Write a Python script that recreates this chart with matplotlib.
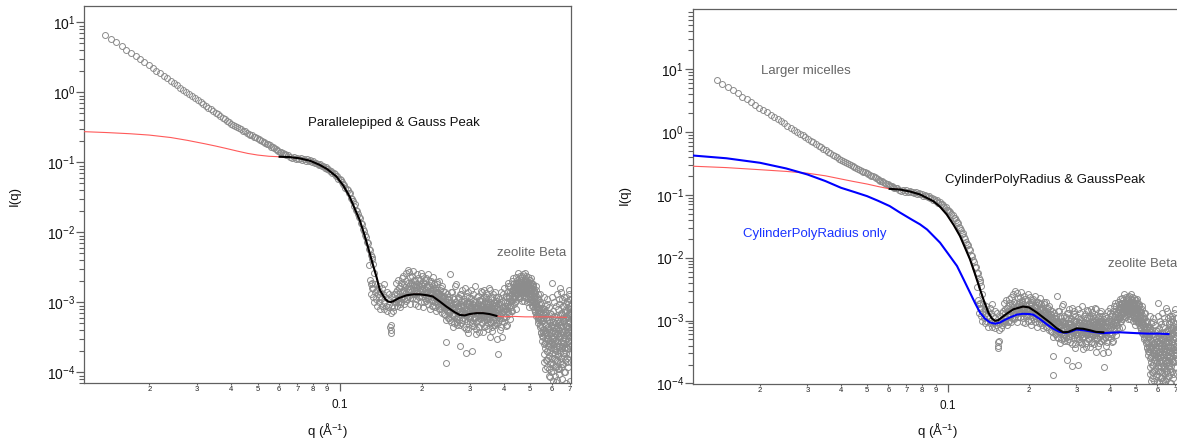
import numpy as np
import matplotlib
matplotlib.use('Agg')
import matplotlib.pyplot as plt
from matplotlib.ticker import LogLocator, FuncFormatter, NullFormatter, FixedLocator

plt.rcParams['font.family'] = ['Liberation Sans', 'DejaVu Sans']
plt.rcParams['mathtext.fontset'] = 'custom'
plt.rcParams['mathtext.rm'] = 'Liberation Sans'
plt.rcParams['mathtext.it'] = 'Liberation Sans:italic'
plt.rcParams['mathtext.bf'] = 'Liberation Sans:bold'
plt.rcParams['mathtext.default'] = 'regular'

# ---------------- data (q in 1/A, I in arbitrary units) ----------------
# low-q power-law trail (q, I)
trail = [(0.0138, 6.65), (0.01447, 5.84), (0.01515, 5.15), (0.01583, 4.56), (0.0165, 4.07),
         (0.01718, 3.64), (0.01786, 3.27), (0.01854, 2.95), (0.0192, 2.68), (0.0199, 2.43),
         (0.02057, 2.22), (0.02125, 2.03), (0.0219, 1.87), (0.0226, 1.71), (0.02328, 1.58),
         (0.02396, 1.46), (0.0246, 1.36), (0.0253, 1.26), (0.026, 1.17), (0.0267, 1.08),
         (0.0274, 1.01), (0.0281, 0.94), (0.0288, 0.88), (0.0295, 0.824), (0.0302, 0.773),
         (0.0309, 0.725), (0.0316, 0.682), (0.0323, 0.642), (0.033, 0.605), (0.0337, 0.571),
         (0.0344, 0.540), (0.0351, 0.511), (0.0358, 0.484), (0.0365, 0.458), (0.0372, 0.435),
         (0.0379, 0.414), (0.0386, 0.393), (0.0393, 0.374), (0.04, 0.356), (0.0407, 0.342),
         (0.0414, 0.330), (0.0421, 0.318), (0.0428, 0.305), (0.0435, 0.296), (0.0442, 0.284),
         (0.0449, 0.276), (0.0456, 0.266), (0.0463, 0.258), (0.047, 0.249), (0.0477, 0.242),
         (0.0484, 0.233), (0.0491, 0.228), (0.0498, 0.220), (0.0505, 0.214), (0.0512, 0.207),
         (0.0519, 0.201), (0.0526, 0.196), (0.0533, 0.190), (0.054, 0.184), (0.0547, 0.180),
         (0.0554, 0.174), (0.0561, 0.168), (0.0568, 0.164), (0.0575, 0.158), (0.0582, 0.154),
         (0.0589, 0.150), (0.0596, 0.146), (0.0603, 0.142), (0.061, 0.139), (0.0617, 0.136),
         (0.0624, 0.133), (0.0631, 0.130), (0.0638, 0.128), (0.0645, 0.126)]

# knee / steep decay (q, I)
knee = [(0.066, 0.121), (0.067, 0.115), (0.068, 0.118), (0.069, 0.112), (0.070, 0.117),
        (0.071, 0.110), (0.072, 0.116), (0.073, 0.109), (0.074, 0.112), (0.075, 0.106),
        (0.076, 0.110), (0.077, 0.104), (0.078, 0.107), (0.079, 0.101), (0.080, 0.103),
        (0.081, 0.097), (0.082, 0.099), (0.083, 0.096), (0.084, 0.091), (0.085, 0.094),
        (0.086, 0.088), (0.087, 0.089), (0.088, 0.083), (0.089, 0.085), (0.090, 0.079),
        (0.091, 0.081), (0.092, 0.074), (0.093, 0.076), (0.094, 0.071), (0.095, 0.070),
        (0.096, 0.068), (0.097, 0.064), (0.098, 0.063), (0.099, 0.057), (0.100, 0.058),
        (0.101, 0.055), (0.102, 0.053), (0.103, 0.049), (0.104, 0.048), (0.105, 0.043),
        (0.106, 0.042), (0.107, 0.040), (0.108, 0.037), (0.109, 0.036), (0.110, 0.031),
        (0.111, 0.030), (0.112, 0.028), (0.113, 0.024), (0.114, 0.025), (0.115, 0.021),
        (0.116, 0.020), (0.117, 0.018), (0.118, 0.0165), (0.119, 0.0160), (0.120, 0.0135),
        (0.121, 0.0130), (0.122, 0.0112), (0.123, 0.0105), (0.124, 0.0092), (0.125, 0.0086),
        (0.126, 0.0072), (0.127, 0.0070), (0.128, 0.0058), (0.129, 0.0056), (0.130, 0.0048),
        (0.131, 0.0044), (0.132, 0.0041), (0.133, 0.0035), (0.134, 0.0026)]

# noisy high-q cloud: q in units of 1e-3 1/A, I in units of 1e-4
cloud_B = [(128, 34), (129, 21), (130, 18), (130, 13), (131, 16), (132, 19), (133, 12), (133, 16),
           (134, 10), (135, 14), (135, 18), (136, 11), (137, 15), (137, 9), (138, 13), (139, 17),
           (139, 10), (140, 12), (141, 8), (141, 14), (142, 11), (143, 16), (143, 9), (144, 13),
           (145, 10), (146, 18), (146, 8), (147, 12), (148, 9), (149, 14), (149, 7.5), (150, 11),
           (151, 8.5), (152, 13), (152, 9.5), (153, 4.5), (154, 4.0), (154, 3.6), (155, 4.8),
           (155, 7), (156, 9), (156, 12), (157, 7.5), (158, 10), (159, 13), (159, 8.5), (160, 11)]

cloud_C = [(161, 19), (162, 9), (163, 13), (164, 11), (165, 16), (166, 8.5), (167, 14), (168, 10),
           (169, 22), (170, 12), (171, 15), (172, 9.5), (173, 18), (174, 13), (175, 26), (176, 11),
           (177, 16), (178, 29), (179, 12.5), (180, 17), (181, 9.5), (182, 23), (183, 14), (184, 18.5),
           (185, 11.5), (186, 28), (187, 15), (188, 13), (189, 20), (190, 11), (191, 16.5), (192, 25),
           (193, 13.5), (194, 9), (195, 17.5), (196, 12), (197, 21), (198, 14.5), (199, 10), (200, 16),
           (201, 24), (202, 13), (203, 8.5), (204, 18), (205, 11.5), (206, 15), (207, 22), (208, 10.5),
           (209, 14), (210, 17), (211, 9.5), (212, 20), (213, 12.5), (214, 15.5), (215, 8), (216, 13.5),
           (217, 19), (218, 11), (219, 14.5), (220, 23), (221, 9), (222, 12.5), (223, 16), (224, 10),
           (225, 13.5), (226, 7.5), (227, 18), (228, 11.5), (229, 9.5), (230, 14), (231, 20), (232, 10.5),
           (233, 8), (234, 13), (235, 16), (236, 9), (237, 11.5), (238, 7), (239, 14.5), (240, 10),
           (241, 8.5), (242, 12.5), (243, 6.5), (244, 11), (245, 2.7), (245, 1.37), (246, 9), (247, 13),
           (248, 7.5), (249, 10), (250, 6),
           (160.5, 14), (163.5, 10), (166.5, 17), (169.5, 12.5), (172.5, 14.5), (175.5, 10.5),
           (178.5, 19), (181.5, 15.5), (184.5, 13), (187.5, 17.5), (190.5, 14.5), (193.5, 16),
           (196.5, 12.5), (199.5, 18.5), (202.5, 15), (205.5, 13), (208.5, 16.5), (211.5, 12),
           (214.5, 14), (217.5, 10.5), (220.5, 15), (223.5, 12), (226.5, 14), (229.5, 11),
           (232.5, 12.5), (235.5, 10), (238.5, 11.5), (241.5, 9.5), (244.5, 10.5), (247.5, 8.5),
           (160.8, 10), (162.3, 15), (163.8, 21), (165.3, 12), (166.8, 9.5), (168.3, 19), (169.8, 14),
           (171.3, 24), (172.8, 11), (174.3, 16.5), (175.8, 20), (177.3, 12), (178.8, 15), (180.3, 27),
           (181.8, 11.5), (183.3, 19.5), (184.8, 24), (186.3, 13.5), (187.8, 21), (189.3, 9.5),
           (190.8, 18), (192.3, 14), (193.8, 22), (195.3, 12), (196.8, 15.5), (198.3, 26), (199.8, 12.5),
           (201.3, 17), (202.8, 19.5), (204.3, 10), (205.8, 21), (207.3, 13.5), (208.8, 16.5),
           (210.3, 25), (211.8, 11), (213.3, 17.5), (214.8, 13), (216.3, 20), (217.8, 9), (219.3, 15.5),
           (220.8, 12), (222.3, 18), (223.8, 8.5), (225.3, 15), (226.8, 10.5), (228.3, 19.5), (229.8, 13),
           (231.3, 8), (232.8, 15), (234.3, 10), (235.8, 12.5), (237.3, 17), (238.8, 9), (240.3, 12.5),
           (241.8, 6.8), (243.3, 14), (244.8, 9.5), (246.3, 5.5), (247.8, 11), (249.3, 8)]

cloud_D = [(251, 9), (252, 6), (253, 12), (254, 25), (255, 7.5), (256, 10), (257, 5.2), (258, 8),
           (259, 14), (260, 6.5), (261, 9.5), (262, 5), (263, 11), (264, 7), (265, 17), (266, 8.5),
           (267, 6), (268, 10), (269, 4.8), (270, 7.5), (271, 12), (272, 6.2), (273, 9), (274, 5.5),
           (275, 8), (276, 2.4), (277, 13), (278, 6.8), (279, 10.5), (280, 5), (281, 7.8), (282, 15),
           (283, 6), (284, 9.2), (285, 4.5), (286, 8), (287, 11), (288, 5.8), (289, 7), (290, 1.9),
           (291, 9.8), (292, 6.3), (293, 12.5), (294, 5.4), (295, 14), (296, 7.2), (297, 4.2), (298, 8.8),
           (299, 6), (300, 10), (301, 5.2), (302, 7.6), (303, 11.5), (304, 6.5), (305, 2.0), (306, 8.4),
           (307, 5), (308, 9.5), (309, 6.8), (310, 13), (311, 4.6), (312, 7.8), (313, 10.2), (314, 6),
           (315, 8.5), (316, 5.3), (317, 3.5), (318, 9), (319, 7), (320, 12), (321, 5.6), (322, 8.2),
           (323, 6.4), (324, 10.8), (325, 4.4), (326, 7.4), (327, 9.2), (328, 5.8), (329, 14.5), (330, 6.6),
           (331, 8.8), (332, 5), (333, 7.8), (334, 11), (335, 6.2), (336, 3.8), (337, 9.5), (338, 7),
           (339, 15), (340, 5.5), (341, 8.2), (342, 6.4), (343, 10.5), (344, 4.6), (345, 7.6), (346, 12),
           (347, 6), (348, 8.6), (349, 5.2), (350, 9.8), (351, 7.2), (352, 16), (353, 5.8), (354, 8),
           (355, 3.2), (356, 10.2), (357, 6.6), (358, 7.8), (359, 5), (360, 11.5), (361, 6.8), (362, 8.4),
           (363, 4.4), (364, 9.4), (365, 7), (366, 13), (367, 5.6), (368, 8.2), (369, 6.2), (370, 10),
           (371, 4.8), (372, 7.4), (373, 9), (374, 5.8), (375, 12), (376, 7), (377, 3.0), (378, 8.6),
           (379, 6.4), (380, 1.8),
           (252.5, 7), (255.5, 9), (258.5, 6.5), (261.5, 8.5), (264.5, 10), (267.5, 7.5), (270.5, 5.8),
           (273.5, 8.2), (276.5, 6.8), (279.5, 9), (282.5, 7.2), (285.5, 10.5), (288.5, 6.6), (291.5, 8),
           (294.5, 7.4), (297.5, 9.6), (300.5, 6.2), (303.5, 8.4), (306.5, 7), (309.5, 9.2), (312.5, 6),
           (315.5, 8), (318.5, 7.2), (321.5, 9.6), (324.5, 6.6), (327.5, 8.4), (330.5, 7), (333.5, 9),
           (336.5, 6.4), (339.5, 8.2), (342.5, 7.4), (345.5, 9.4), (348.5, 6.8), (351.5, 8.6),
           (354.5, 7.2), (357.5, 9.6), (360.5, 7.6), (363.5, 8.2), (366.5, 6.8), (369.5, 8.8),
           (372.5, 7.6), (375.5, 9.2), (378.5, 8),
           (251.8, 11), (253.8, 5.5), (255.8, 14), (257.8, 8.2), (259.8, 4.4), (261.8, 12), (263.8, 6.4),
           (265.8, 9.6), (267.8, 18), (269.8, 5.2), (271.8, 8.8), (273.8, 11.5), (275.8, 4.8),
           (277.8, 7.6), (279.8, 13), (281.8, 5.6), (283.8, 10), (285.8, 6.8), (287.8, 16), (289.8, 4.2),
           (291.8, 7.4), (293.8, 9.8), (295.8, 3.6), (297.8, 12), (299.8, 5.8), (301.8, 8.6),
           (303.8, 15), (305.8, 4.6), (307.8, 7.2), (309.8, 10.5), (311.8, 6), (313.8, 17), (315.8, 4.2),
           (317.8, 8.4), (319.8, 5.4), (321.8, 12.5), (323.8, 7.8), (325.8, 3.8), (327.8, 10.8),
           (329.8, 6.2), (331.8, 14), (333.8, 5), (335.8, 8.6), (337.8, 11.8), (339.8, 4.4), (341.8, 7.4),
           (343.8, 13.5), (345.8, 5.8), (347.8, 9.4), (349.8, 4.2), (351.8, 11), (353.8, 6.8),
           (355.8, 15), (357.8, 5.2), (359.8, 8.8), (361.8, 3.9), (363.8, 12), (365.8, 6.4), (367.8, 9.8),
           (369.8, 4.8), (371.8, 14), (373.8, 7), (375.8, 5), (377.8, 10.5), (379.8, 6.6)]

cloud_E = [(381, 7), (383, 9.5), (384, 5.5), (386, 11), (387, 6.5), (389, 8), (390, 4.5), (392, 10),
           (393, 7.2), (395, 3.2), (396, 8.5), (398, 6), (399, 13), (401, 7.5), (402, 5.2), (404, 10),
           (405, 8), (407, 6.2), (408, 12), (410, 8.8), (411, 4.8), (413, 7.5), (414, 17), (416, 9.5),
           (417, 6.8), (419, 11.5), (420, 8.5), (422, 14), (423, 5.8), (425, 10.5), (426, 8.6), (428, 15),
           (429, 12), (431, 7.5), (432, 18), (434, 11), (435, 14.5), (437, 9.5), (438, 19), (440, 12.5),
           (441, 16), (443, 10.5), (444, 8), (446, 17), (447, 13.5), (449, 21), (450, 12), (452, 15),
           (453, 19), (455, 11.5), (456, 14.5), (458, 24), (459, 16), (461, 12.5), (462, 18), (464, 14),
           (465, 21), (467, 15), (468, 10.5), (470, 17), (471, 25), (473, 14), (474, 19), (476, 12),
           (477, 16), (479, 22), (480, 13.5), (482, 18), (483, 24), (485, 15), (486, 10), (488, 20),
           (489, 13.5), (491, 17), (492, 11.5), (494, 21), (495, 15), (497, 8.5), (498, 18), (500, 12.5),
           (501, 16), (503, 22), (504, 11), (506, 14.5), (507, 18), (509, 10), (510, 13), (512, 17),
           (513, 9), (515, 12), (516, 15), (518, 8), (519, 11), (521, 13.5), (522, 7.2), (524, 10),
           (525, 17), (527, 8.5), (528, 6.3), (530, 12), (531, 9), (533, 6), (534, 7.8), (536, 11),
           (537, 5), (539, 8.2), (540, 6.4), (542, 13), (543, 4.4), (545, 7.4), (546, 5.5), (548, 9.6),
           (549, 3.8), (551, 6.5), (552, 4.6), (554, 8.3), (555, 3.3), (557, 6), (558, 4.2),
           (430, 13), (433, 15), (436, 11.5), (439, 16.5), (442, 14), (445, 18), (448, 15.5), (451, 13),
           (454, 16.5), (457, 19), (460, 14.5), (463, 15.5), (466, 17), (469, 14), (472, 19),
           (475, 15.5), (478, 17), (481, 14.5), (484, 16.5), (487, 14), (490, 18), (493, 15.5),
           (496, 13), (499, 14.5), (502, 12), (505, 15.5), (508, 11), (511, 13.5), (514, 10.5),
           (517, 12), (520, 9.5),
           (380.5, 5), (382.5, 12), (384.5, 7.8), (386.5, 4), (388.5, 9.5), (390.5, 6.8), (392.5, 14),
           (394.5, 5.4), (396.5, 10.5), (398.5, 7.4), (400.5, 16), (402.5, 6.2), (404.5, 9),
           (406.5, 12.5), (408.5, 4.6), (410.5, 14), (412.5, 10), (414.5, 7.2), (416.5, 19),
           (418.5, 12.5), (420.5, 9.2), (422.5, 17), (424.5, 13), (426.5, 7.6), (428.5, 20),
           (430.5, 10.5), (432.5, 14.5), (434.5, 22), (436.5, 12), (438.5, 16.5), (440.5, 10),
           (442.5, 19), (444.5, 23), (446.5, 13), (448.5, 17), (450.5, 26), (452.5, 12), (454.5, 20),
           (456.5, 15), (458.5, 18.5), (460.5, 11.5), (462.5, 22), (464.5, 16.5), (466.5, 13),
           (468.5, 24), (470.5, 15), (472.5, 18), (474.5, 10.5), (476.5, 20), (478.5, 14), (480.5, 26),
           (482.5, 12.5), (484.5, 21), (486.5, 16), (488.5, 18.5), (490.5, 11), (492.5, 23),
           (494.5, 13.5), (496.5, 17.5), (498.5, 21), (500.5, 10), (502.5, 15), (504.5, 19),
           (506.5, 12.5), (508.5, 16), (510.5, 9), (512.5, 14), (514.5, 18), (516.5, 10), (518.5, 13.5),
           (520.5, 7.5), (522.5, 12), (524.5, 9.5), (526.5, 15), (528.5, 6.5), (530.5, 10.5), (532.5, 8),
           (534.5, 13), (536.5, 5.5), (538.5, 9.5), (540.5, 7), (542.5, 4.8), (544.5, 10), (546.5, 6.2),
           (548.5, 3.6), (550.5, 8), (552.5, 5.4), (554.5, 2.8), (556.5, 7), (558.5, 3.8)]

cloud_F = [(560, 3.2), (561, 8), (562, 2.5), (563, 5), (564, 12), (565, 1.8), (566, 4), (567, 6.5),
           (568, 2.2), (569, 3.6), (570, 9), (571, 1.5), (572, 4.8), (573, 2.8), (574, 7), (575, 1.2),
           (576, 3.4), (577, 5.5), (578, 2), (579, 11), (580, 3), (581, 1.6), (582, 4.4), (583, 2.4),
           (584, 6.2), (585, 1.1), (586, 3.8), (587, 2.6), (588, 8.5), (589, 1.7), (590, 4.2), (591, 2.9),
           (592, 0.85), (593, 5.2), (594, 2.1), (595, 3.3), (596, 1.4), (597, 6.8), (598, 2.7), (599, 1.0),
           (600, 4.6), (601, 19), (602, 3.1), (603, 1.9), (604, 5.8), (605, 0.75), (606, 2.5), (607, 3.9),
           (608, 1.3), (609, 7.5), (610, 2.2), (611, 4.4), (612, 1.6), (613, 3.2), (614, 10), (615, 0.9),
           (616, 2.8), (617, 5), (618, 1.8), (619, 3.6), (620, 1.2), (621, 6.2), (622, 2.4), (623, 4.2),
           (624, 0.72), (625, 2.9), (626, 13), (627, 1.5), (628, 3.5), (629, 5.6), (630, 2), (631, 8),
           (632, 1.1), (633, 4), (634, 2.6), (635, 6.6), (636, 1.7), (637, 3.3), (638, 0.95), (639, 4.8),
           (640, 2.3), (641, 9.5), (642, 1.4), (643, 3.7), (644, 5.4), (645, 2.1), (646, 16), (647, 1.2),
           (648, 4.4), (649, 2.7), (650, 7), (651, 1.6), (652, 3.4), (653, 0.8), (654, 5.2), (655, 2.4),
           (656, 11), (657, 3.8), (658, 1.9), (659, 6), (660, 2.8), (661, 1.3), (662, 4.6), (663, 8.8),
           (664, 2.2), (665, 3.2), (666, 1.0), (667, 5.4), (668, 12), (669, 2.6), (670, 4), (671, 1.5),
           (672, 7.2), (673, 3), (674, 5.8), (675, 1.9), (676, 9.5), (677, 3.6), (678, 0.7), (679, 6.4),
           (680, 2.5), (681, 4.6), (682, 10.5), (683, 1.6), (684, 3.4), (685, 7.6), (686, 2.2), (687, 5),
           (688, 1.2), (689, 8.2), (690, 3.8), (691, 6), (692, 2.8), (693, 13), (694, 4.4), (695, 1.8),
           (696, 7), (697, 3.2), (698, 5.4), (699, 9), (700, 2.4), (701, 6.6), (702, 0.75), (703, 4),
           (704, 11), (705, 3), (706, 7.4), (707, 1.4),
           (559.5, 5.5), (561.5, 1.4), (563.5, 3.5), (565.5, 7.5), (567.5, 2.6), (569.5, 1.1), (571.5, 6),
           (573.5, 3.8), (575.5, 2), (577.5, 9.5), (579.5, 1.5), (581.5, 4.2), (583.5, 3), (585.5, 0.9),
           (587.5, 5.6), (589.5, 2.4), (591.5, 7), (593.5, 1.3), (595.5, 3.6), (597.5, 2.2), (599.5, 4.8),
           (601.5, 1.6), (603.5, 12), (605.5, 3), (607.5, 1.05), (609.5, 5.2), (611.5, 2.6), (613.5, 6.4),
           (615.5, 1.5), (617.5, 3.9), (619.5, 2.1), (621.5, 8.8), (623.5, 1.2), (625.5, 4.4),
           (627.5, 2.8), (629.5, 0.78), (631.5, 5), (633.5, 1.8), (635.5, 3.6), (637.5, 11), (639.5, 2.4),
           (641.5, 1.1), (643.5, 6.6), (645.5, 3.2), (647.5, 1.6), (649.5, 4.8), (651.5, 14), (653.5, 2.2),
           (655.5, 6.8), (657.5, 1.3), (659.5, 3.8), (661.5, 9), (663.5, 2.6), (665.5, 5.4), (667.5, 1.7),
           (669.5, 7.8), (671.5, 3.4), (673.5, 1.0), (675.5, 4.6), (677.5, 12), (679.5, 2.3), (681.5, 6.2),
           (683.5, 3.6), (685.5, 1.4), (687.5, 9.6), (689.5, 4.4), (691.5, 2.2), (693.5, 6.8), (695.5, 3.4),
           (697.5, 15), (699.5, 1.8), (701.5, 5.2), (703.5, 8), (705.5, 2.8), (707.5, 4.8)]

# ---- model curves, left panel (Parallelepiped & Gauss Peak) ----
fitL_q = [0.0602, 0.0652, 0.0713, 0.078, 0.0844, 0.09, 0.0972, 0.103, 0.1088, 0.1135, 0.1185,
          0.123, 0.127, 0.1318, 0.1365, 0.1405, 0.1443, 0.1475, 0.1505, 0.154, 0.157, 0.165,
          0.176, 0.186, 0.197, 0.21, 0.22, 0.233, 0.2465, 0.262, 0.276, 0.288, 0.3, 0.318, 0.336,
          0.355, 0.3765]
fitL_I = [0.12, 0.119, 0.114, 0.105, 0.092, 0.08, 0.063, 0.047, 0.0324, 0.022, 0.0149,
          0.0095, 0.0062, 0.0037, 0.00232, 0.0015, 0.00126, 0.00110, 0.00103, 0.00101, 0.00103,
          0.00115, 0.00126, 0.0013, 0.0013, 0.00126, 0.00121, 0.00103, 0.00087, 0.00074, 0.00066,
          0.00065, 0.00068, 0.0007, 0.0007, 0.00068, 0.00064]
modelL_lo_q = [0.01155, 0.014, 0.017, 0.02, 0.024, 0.0276, 0.032, 0.035, 0.038, 0.042, 0.046,
               0.05, 0.055]
modelL_lo_I = [0.274, 0.266, 0.256, 0.245, 0.226, 0.206, 0.184, 0.171, 0.159, 0.145, 0.134,
               0.127, 0.122]
modelL_hi_q = [0.40, 0.433, 0.48, 0.51, 0.58, 0.68]
modelL_hi_I = [0.00062, 0.00063, 0.00062, 0.00062, 0.00062, 0.00061]

# ---- model curves, right panel (CylinderPolyRadius & GaussPeak) ----
fitR_q = [0.0607, 0.0663, 0.0725, 0.0787, 0.0882, 0.0935, 0.0989, 0.105, 0.1108, 0.1155, 0.1207,
          0.126, 0.1315, 0.136, 0.1412, 0.1455, 0.1495, 0.1535, 0.1584, 0.166, 0.175, 0.19, 0.2,
          0.214, 0.226, 0.2393, 0.253, 0.268, 0.28, 0.3007, 0.318, 0.337, 0.355, 0.378]
fitR_I = [0.124, 0.121, 0.112, 0.101, 0.079, 0.064, 0.0486, 0.033, 0.022, 0.0146, 0.0094,
          0.0055, 0.00314, 0.00205, 0.00134, 0.00108, 0.00099, 0.00101, 0.00112, 0.0013, 0.00151,
          0.00167, 0.00162, 0.00134, 0.00112, 0.00093, 0.00076, 0.00065, 0.00066, 0.00075, 0.00074,
          0.0007, 0.00066, 0.00065]
modelR_lo_q = [0.01127, 0.015, 0.02, 0.025, 0.03, 0.035, 0.04, 0.044, 0.05, 0.055]
modelR_lo_I = [0.284, 0.27, 0.25, 0.235, 0.22, 0.2, 0.178, 0.164, 0.148, 0.135]
modelR_hi_q = [0.40, 0.436, 0.502, 0.60, 0.66]
modelR_hi_I = [0.00064, 0.00065, 0.00063, 0.00062, 0.00061]
cyl_q = [0.01127, 0.015, 0.02, 0.025, 0.03, 0.035, 0.04, 0.045, 0.05, 0.055, 0.0607, 0.0663,
         0.0735, 0.0787, 0.0836, 0.0934, 0.1, 0.108, 0.114, 0.1207, 0.126, 0.1315, 0.137, 0.1433,
         0.15, 0.156, 0.163, 0.17, 0.18, 0.19, 0.2, 0.2075, 0.22, 0.233, 0.245, 0.26, 0.275, 0.29,
         0.30, 0.32, 0.347, 0.378, 0.4, 0.436, 0.47, 0.502, 0.55, 0.6, 0.66]
cyl_I = [0.42, 0.38, 0.322, 0.262, 0.21, 0.165, 0.129, 0.11, 0.095, 0.08, 0.066, 0.052,
         0.040, 0.0338, 0.028, 0.0173, 0.0116, 0.00736, 0.0046, 0.00278, 0.0019, 0.00134, 0.00108,
         0.00093, 0.00089, 0.00093, 0.00103, 0.00112, 0.00124, 0.00128, 0.00127, 0.00124, 0.00105,
         0.00087, 0.00075, 0.00066, 0.00064, 0.00068, 0.00072, 0.0007, 0.00066, 0.00063, 0.00064,
         0.00065, 0.00064, 0.00063, 0.00062, 0.00062, 0.00061]

# ---------------- assemble ----------------
cloud = cloud_B + cloud_C + cloud_D + cloud_E + cloud_F
q_data = np.concatenate([[p[0] for p in trail], [p[0] for p in knee],
                         np.array([p[0] for p in cloud]) * 1e-3])
I_data = np.concatenate([[p[1] for p in trail], [p[1] for p in knee],
                         np.array([p[1] for p in cloud]) * 1e-4])

modelL_q = np.concatenate([modelL_lo_q, fitL_q, modelL_hi_q])
modelL_I = np.concatenate([modelL_lo_I, fitL_I, modelL_hi_I])
modelR_q = np.concatenate([modelR_lo_q, fitR_q, modelR_hi_q])
modelR_I = np.concatenate([modelR_lo_I, fitR_I, modelR_hi_I])

W, H = 1177, 442
fig = plt.figure(figsize=(W / 100, H / 100), dpi=100)


def px_axes(x0, y0, x1, y1):
    return fig.add_axes([x0 / W, 1 - y1 / H, (x1 - x0) / W, (y1 - y0) / H])


def minor_fmt(v, pos):
    e = np.floor(np.log10(v) + 1e-9)
    return '%d' % round(v / 10 ** e)


def style(ax):
    ax.set_xscale('log')
    ax.set_yscale('log')
    for s in ax.spines.values():
        s.set_color('#606060')
        s.set_linewidth(0.9)
    ax.xaxis.set_major_locator(FixedLocator([0.1]))
    ax.xaxis.set_major_formatter(FuncFormatter(lambda v, p: '0.1'))
    ax.xaxis.set_minor_locator(LogLocator(base=10, subs=np.arange(2, 10), numticks=20))
    ax.xaxis.set_minor_formatter(FuncFormatter(minor_fmt))
    ax.yaxis.set_major_locator(LogLocator(base=10, numticks=20))
    ax.yaxis.set_major_formatter(FuncFormatter(lambda v, p: r'$10^{%d}$' % round(np.log10(v))))
    ax.yaxis.set_minor_locator(LogLocator(base=10, subs=np.arange(2, 10), numticks=20))
    ax.yaxis.set_minor_formatter(NullFormatter())
    ax.tick_params(axis='x', which='major', direction='out', length=5.8, width=0.9,
                   color='#606060', pad=5.5, labelsize=8.5, labelcolor='#111111')
    ax.tick_params(axis='x', which='minor', direction='out', length=1.5, width=0.8,
                   color='#606060', pad=0.3, labelsize=5.5, labelcolor='#222222')
    ax.tick_params(axis='y', which='major', direction='out', length=5.8, width=0.9,
                   color='#606060', pad=0.8, labelsize=10, labelcolor='#111111')
    ax.tick_params(axis='y', which='minor', direction='out', length=3.6, width=0.8,
                   color='#606060')
    ax.tick_params(top=False, right=False, which='both')


axL = px_axes(84.3, 6, 571, 383.3)
axR = px_axes(693, 9.3, 1180, 384)

for ax in (axL, axR):
    style(ax)
    ax.plot(q_data, I_data, ls='none', marker='o', ms=4.3, mfc='none', mec='#8c8c8c',
            mew=0.7, zorder=2)

axL.plot(modelL_q, modelL_I, color='#ff5a5a', lw=0.8, zorder=3)
axL.plot(fitL_q, fitL_I, color='black', lw=1.5, zorder=4)
axL.set_xlim(0.01155, 0.707)
axL.set_ylim(6.97e-5, 17.1)

axR.plot(modelR_q, modelR_I, color='#ff5a5a', lw=0.8, zorder=3)
axR.plot(cyl_q, cyl_I, color='#0000ff', lw=1.5, zorder=4)
axR.plot(fitR_q, fitR_I, color='black', lw=1.5, zorder=5)
axR.set_xlim(0.01127, 0.7285)
axR.set_ylim(0.98e-4, 88.7)


def ftext(x, y, s, **kw):
    fig.text(x / W, 1 - y / H, s, **kw)


ftext(15, 196, 'I(q)', rotation=90, ha='center', va='center', fontsize=9.5, color='#111111')
ftext(625, 195, 'I(q)', rotation=90, ha='center', va='center', fontsize=9.5, color='#111111')
ftext(327, 431, r'q (Å$^{-1}$)', ha='center', va='center', fontsize=9.5, color='#111111')
ftext(937, 430, r'q (Å$^{-1}$)', ha='center', va='center', fontsize=9.5, color='#111111')

ftext(308, 122.7, 'Parallelepiped & Gauss Peak', ha='left', va='center', fontsize=9.5,
      color='#111111')
ftext(496.7, 253.3, 'zeolite Beta', ha='left', va='center', fontsize=9.5, color='#666666')
ftext(761, 71, 'Larger micelles', ha='left', va='center', fontsize=9.5, color='#666666')
ftext(945, 180, 'CylinderPolyRadius & GaussPeak', ha='left', va='center', fontsize=9.5,
      color='#111111')
ftext(743, 234.3, 'CylinderPolyRadius only', ha='left', va='center', fontsize=9.5,
      color='#1a33ff')
ftext(1108.3, 264.3, 'zeolite Beta', ha='left', va='center', fontsize=9.5, color='#666666')

fig.savefig('out.png', dpi=100)
